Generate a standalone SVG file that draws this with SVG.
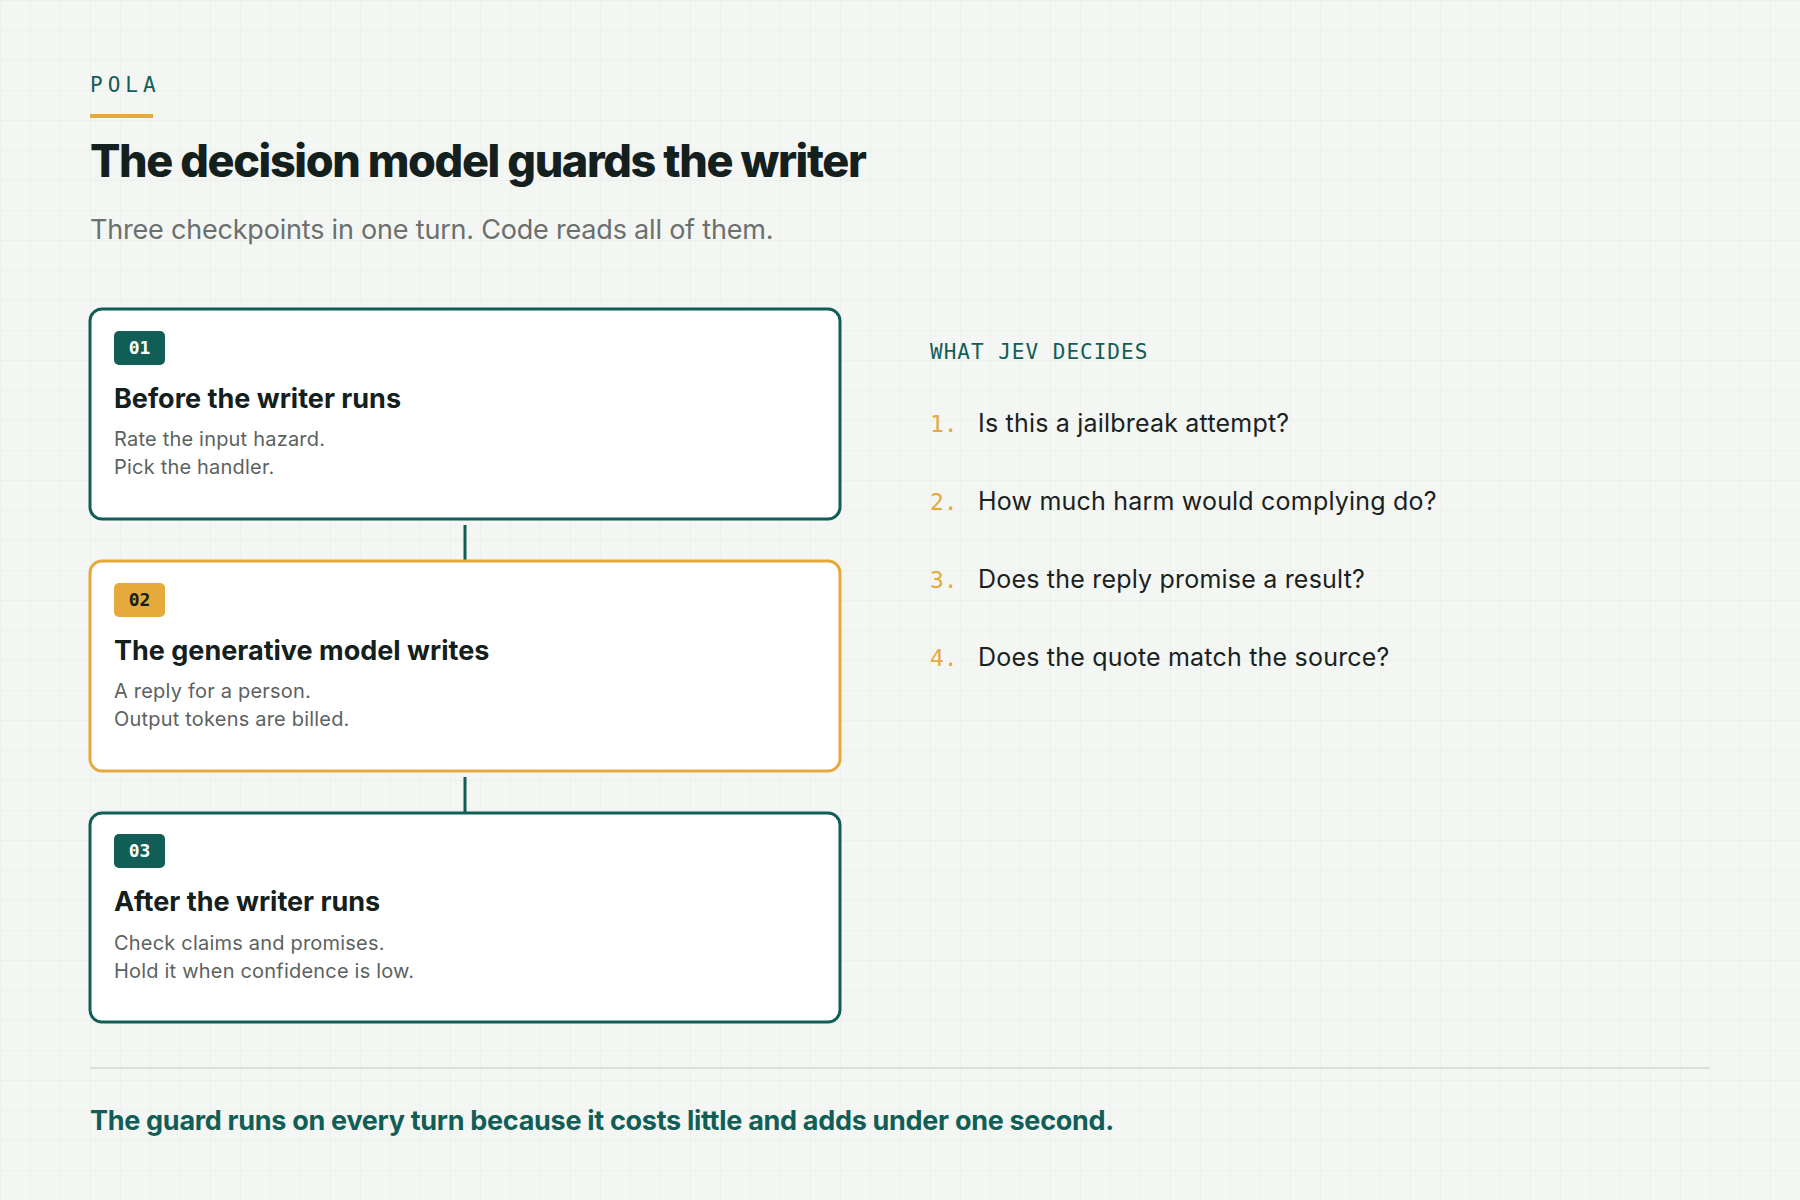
<svg xmlns="http://www.w3.org/2000/svg" width="1800" height="1200" viewBox="0 0 1800 1200">
<defs>
<pattern id="grid" width="30" height="30" patternUnits="userSpaceOnUse">
<path d="M30 0H0V30" fill="none" stroke="#e6e9e6" stroke-width="1"/>
</pattern>
<style>
.sans{font-family:Inter,"Noto Sans",sans-serif}
.mono{font-family:"DejaVu Sans Mono","Liberation Mono",monospace}
.box{fill:#fff;stroke-width:3}
.teal{stroke:#115e57}
.amber{stroke:#e5a93c}
.h{font-size:27px;font-weight:700;fill:#13201d;letter-spacing:0px}
.b{font-size:20px;fill:#5b625f;letter-spacing:0.2px}
.badge{font-size:18px;font-weight:700}
.q{font-size:25px;fill:#1a2220;letter-spacing:0.2px}
.n{font-size:23px;fill:#e5a93c}
</style>
</defs>
<rect width="1800" height="1200" fill="#f4f6f4"/>
<rect width="1800" height="1200" fill="url(#grid)"/>
<text x="90" y="92" class="mono" font-size="21" fill="#115e57" letter-spacing="5">POLA</text>
<rect x="90" y="114" width="63" height="4" fill="#e5a93c"/>
<text x="90" y="177" class="sans" font-size="45" font-weight="800" fill="#13201d" letter-spacing="-1.4">The decision model guards the writer</text>
<text x="90" y="239" class="sans" font-size="27" fill="#6a706d" letter-spacing="-0.2">Three checkpoints in one turn. Code reads all of them.</text>
<g id="connectors" stroke="#115e57" stroke-width="3">
<line x1="465" y1="525" x2="465" y2="560"/>
<line x1="465" y1="777" x2="465" y2="812"/>
</g>
<g id="step1">
<rect x="90" y="309" width="750" height="210" rx="12" class="box teal"/>
<rect x="114" y="331" width="51" height="34" rx="5" fill="#115e57"/>
<text x="139.5" y="354" text-anchor="middle" class="mono badge" fill="#fff">01</text>
<text x="114" y="408" class="sans h">Before the writer runs</text>
<text x="114" y="446" class="sans b">Rate the input hazard.</text>
<text x="114" y="474" class="sans b">Pick the handler.</text>
</g>
<g id="step2">
<rect x="90" y="561" width="750" height="210" rx="12" class="box amber"/>
<rect x="114" y="583" width="51" height="34" rx="5" fill="#e5a93c"/>
<text x="139.5" y="606" text-anchor="middle" class="mono badge" fill="#13201d">02</text>
<text x="114" y="660" class="sans h">The generative model writes</text>
<text x="114" y="698" class="sans b">A reply for a person.</text>
<text x="114" y="726" class="sans b">Output tokens are billed.</text>
</g>
<g id="step3">
<rect x="90" y="813" width="750" height="209" rx="12" class="box teal"/>
<rect x="114" y="834" width="51" height="34" rx="5" fill="#115e57"/>
<text x="139.5" y="857" text-anchor="middle" class="mono badge" fill="#fff">03</text>
<text x="114" y="911" class="sans h">After the writer runs</text>
<text x="114" y="950" class="sans b">Check claims and promises.</text>
<text x="114" y="978" class="sans b">Hold it when confidence is low.</text>
</g>
<g id="decides">
<text x="930" y="359" class="mono" font-size="21" fill="#115e57" letter-spacing="1">WHAT JEV DECIDES</text>
<text x="930" y="432" class="mono n">1.</text><text x="978" y="432" class="sans q">Is this a jailbreak attempt?</text>
<text x="930" y="510" class="mono n">2.</text><text x="978" y="510" class="sans q">How much harm would complying do?</text>
<text x="930" y="588" class="mono n">3.</text><text x="978" y="588" class="sans q">Does the reply promise a result?</text>
<text x="930" y="666" class="mono n">4.</text><text x="978" y="666" class="sans q">Does the quote match the source?</text>
</g>
<line x1="90" y1="1068" x2="1710" y2="1068" stroke="#dcdfdc" stroke-width="2"/>
<text x="90" y="1130" class="sans" font-size="27" font-weight="700" fill="#115e57" letter-spacing="-0.3">The guard runs on every turn because it costs little and adds under one second.</text>
</svg>
